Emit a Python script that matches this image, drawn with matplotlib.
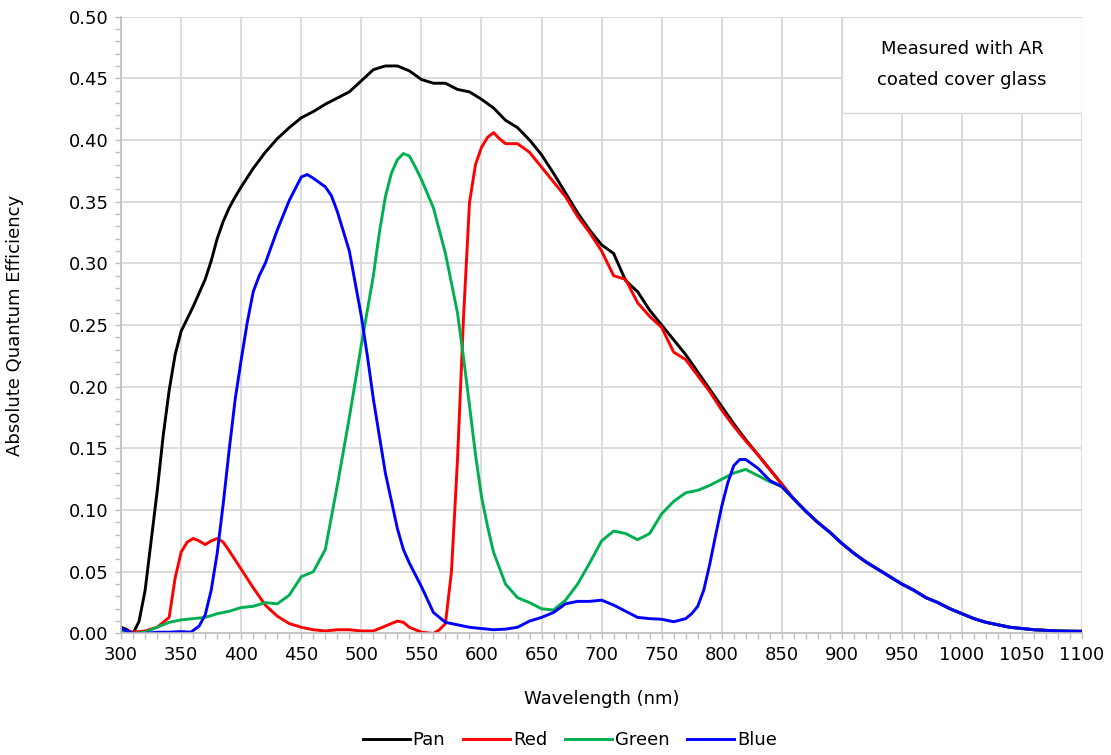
"""Absolute quantum efficiency curves of a pan / RGB sensor"""

from matplotlib import pyplot as plt
from matplotlib.patches import Rectangle
from matplotlib.ticker import MultipleLocator

plt.rcParams["font.family"] = ["DejaVu Sans"]

# common long-wavelength tail (860-1100 nm), shared by all four curves
tail_wl = [860, 870, 880, 890, 900, 910, 920, 930, 940, 950, 960, 970, 980,
           990, 1000, 1010, 1020, 1030, 1040, 1050, 1060, 1070, 1080, 1090, 1100]
tail_qe = [0.109, 0.099, 0.090, 0.082, 0.073, 0.065, 0.058, 0.052, 0.046,
           0.040, 0.035, 0.029, 0.025, 0.020, 0.016, 0.012, 0.009, 0.007,
           0.005, 0.004, 0.003, 0.0025, 0.002, 0.0018, 0.0017]

pan_wl = [300, 305, 310, 315, 320, 325, 330, 335, 340, 345, 350, 355, 360,
          365, 370, 375, 380, 385, 390, 395, 400, 410, 420, 430, 440, 450,
          460, 470, 480, 490, 500, 510, 520, 530, 540, 550, 560, 570, 580,
          590, 600, 610, 620, 630, 640, 650, 660, 670, 680, 690, 700, 710,
          720, 730, 740, 750, 760, 770, 780, 790, 800, 810, 820, 830, 840,
          850]
pan_qe = [0.005, 0.003, 0.0, 0.010, 0.035, 0.075, 0.115, 0.160, 0.197,
          0.226, 0.245, 0.255, 0.265, 0.276, 0.287, 0.302, 0.320, 0.334,
          0.345, 0.354, 0.362, 0.377, 0.390, 0.401, 0.410, 0.418, 0.423,
          0.429, 0.434, 0.439, 0.448, 0.457, 0.460, 0.460, 0.456, 0.449,
          0.446, 0.446, 0.441, 0.439, 0.433, 0.426, 0.416, 0.410, 0.400,
          0.388, 0.373, 0.357, 0.341, 0.327, 0.315, 0.308, 0.286, 0.277,
          0.262, 0.250, 0.238, 0.226, 0.212, 0.198, 0.184, 0.170, 0.157,
          0.145, 0.133, 0.121]

red_wl = [300, 310, 320, 330, 340, 345, 350, 355, 360, 365, 370, 375, 380,
          385, 390, 400, 410, 420, 430, 440, 450, 460, 470, 480, 490, 500,
          510, 520, 530, 535, 540, 550, 560, 565, 570, 575, 580, 585, 590,
          595, 600, 605, 610, 615, 620, 630, 640, 650, 660, 670, 680, 690,
          700, 710, 720, 730, 740, 750, 760, 770, 780, 790, 800, 810, 820,
          830, 840, 850]
red_qe = [0.003, 0.001, 0.002, 0.005, 0.013, 0.045, 0.066, 0.074, 0.077,
          0.075, 0.072, 0.075, 0.077, 0.074, 0.067, 0.052, 0.037, 0.023,
          0.014, 0.008, 0.005, 0.003, 0.002, 0.003, 0.003, 0.002, 0.002,
          0.006, 0.010, 0.009, 0.005, 0.001, 0.0, 0.003, 0.008, 0.050,
          0.140, 0.255, 0.349, 0.380, 0.394, 0.402, 0.406, 0.401, 0.397,
          0.397, 0.390, 0.378, 0.366, 0.354, 0.338, 0.325, 0.310, 0.290,
          0.287, 0.268, 0.257, 0.248, 0.228, 0.222, 0.209, 0.196, 0.181,
          0.168, 0.156, 0.145, 0.133, 0.121]

green_wl = [300, 310, 320, 330, 340, 350, 360, 370, 380, 390, 400, 410, 420,
            430, 440, 450, 460, 470, 480, 490, 500, 510, 515, 520, 525, 530,
            535, 540, 545, 550, 560, 570, 580, 585, 590, 595, 600, 605, 610,
            620, 630, 640, 650, 660, 670, 680, 690, 700, 710, 720, 730, 740,
            750, 760, 770, 780, 790, 800, 810, 820, 830, 840, 850]
green_qe = [0.002, 0.0, 0.001, 0.005, 0.009, 0.011, 0.012, 0.013, 0.016,
            0.018, 0.021, 0.022, 0.025, 0.024, 0.031, 0.046, 0.050, 0.068,
            0.120, 0.175, 0.234, 0.290, 0.325, 0.354, 0.373, 0.384, 0.389,
            0.387, 0.378, 0.368, 0.345, 0.308, 0.260, 0.224, 0.185, 0.145,
            0.111, 0.087, 0.066, 0.040, 0.029, 0.025, 0.020, 0.019, 0.027,
            0.040, 0.057, 0.075, 0.083, 0.081, 0.076, 0.081, 0.097, 0.107,
            0.114, 0.116, 0.120, 0.125, 0.130, 0.133, 0.128, 0.123, 0.119]

blue_wl = [300, 305, 310, 320, 330, 340, 350, 358, 365, 370, 375, 380, 385,
           390, 395, 400, 405, 410, 415, 420, 430, 440, 450, 455, 460, 470,
           475, 480, 490, 500, 505, 510, 520, 530, 535, 540, 550, 560, 570,
           580, 590, 600, 610, 620, 630, 640, 650, 660, 670, 680, 690, 700,
           710, 720, 730, 740, 750, 760, 770, 775, 780, 785, 790, 795, 800,
           805, 810, 815, 820, 830, 840, 850]
blue_qe = [0.004, 0.002, 0.0, 0.0, 0.001, 0.001, 0.0015, 0.001, 0.006,
           0.015, 0.035, 0.065, 0.105, 0.149, 0.190, 0.222, 0.252, 0.277,
           0.290, 0.300, 0.327, 0.351, 0.370, 0.372, 0.369, 0.362, 0.355,
           0.342, 0.310, 0.257, 0.225, 0.190, 0.130, 0.085, 0.068, 0.057,
           0.038, 0.017, 0.009, 0.007, 0.005, 0.004, 0.003, 0.0035, 0.005,
           0.010, 0.013, 0.017, 0.024, 0.026, 0.026, 0.027, 0.023, 0.018,
           0.013, 0.012, 0.0115, 0.0095, 0.012, 0.016, 0.022, 0.035, 0.056,
           0.080, 0.103, 0.122, 0.136, 0.141, 0.141, 0.134, 0.124, 0.119]

series = [
    ("Pan", pan_wl, pan_qe, "black"),
    ("Red", red_wl, red_qe, "#ff0000"),
    ("Green", green_wl, green_qe, "#00b050"),
    ("Blue", blue_wl, blue_qe, "#0000ff"),
]


def main():
    fig = plt.figure(figsize=(11.11, 7.55), dpi=100)
    ax = fig.add_axes([0.109, 0.161, 0.865, 0.817])

    for name, wl, qe, color in series:
        ax.plot(wl + tail_wl, qe + tail_qe, color=color, linewidth=2.1,
                label=name, solid_joinstyle="round")

    ax.set_xlim(300, 1100)
    ax.set_ylim(0, 0.5)
    ax.xaxis.set_major_locator(MultipleLocator(50))
    ax.xaxis.set_minor_locator(MultipleLocator(10))
    ax.yaxis.set_major_locator(MultipleLocator(0.05))
    ax.yaxis.set_minor_locator(MultipleLocator(0.01))
    ax.yaxis.set_major_formatter(lambda v, pos: f"{v:.2f}")

    ax.grid(True, which="major", color="#d9d9d9", linewidth=1.3)
    ax.set_axisbelow(True)
    for side in ("top", "right"):
        ax.spines[side].set_visible(False)
    for side in ("left", "bottom"):
        ax.spines[side].set_color("#bfbfbf")
        ax.spines[side].set_linewidth(1.2)
    ax.tick_params(which="both", color="#bfbfbf", width=1.0, length=4,
                   labelsize=13, pad=5)

    ax.set_xlabel("Wavelength (nm)", fontsize=13, labelpad=19)
    ax.set_ylabel("Absolute Quantum Efficiency", fontsize=13, labelpad=32)

    ax.add_patch(Rectangle((0.75, 0.843), 0.25, 0.157, transform=ax.transAxes,
                           facecolor="white", edgecolor="#d9d9d9",
                           linewidth=1.0, zorder=3))
    ax.text(0.875, 0.922, "Measured with AR\ncoated cover glass",
            transform=ax.transAxes, ha="center", va="center", fontsize=13,
            linespacing=1.95, zorder=4)

    fig.legend(loc="lower center", bbox_to_anchor=(0.513, -0.014), ncol=4,
               frameon=False, fontsize=13, handlelength=2.6,
               handletextpad=0.15, columnspacing=1.0)

    fig.savefig("out.png", dpi=100)


if __name__ == "__main__":
    main()
